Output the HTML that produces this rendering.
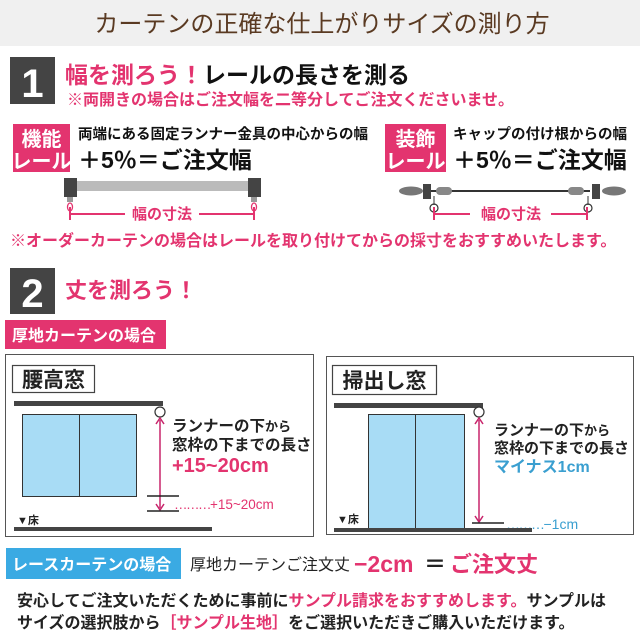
<!DOCTYPE html>
<html><head><meta charset="utf-8"><style>
html,body{margin:0;padding:0;background:#fff}
svg{display:block}
text{font-family:"Liberation Sans","Noto Sans CJK JP",sans-serif}
.b{font-weight:bold}
</style></head><body>
<svg width="640" height="640" viewBox="0 0 640 640" xmlns="http://www.w3.org/2000/svg">
<rect x="0" y="0" width="640" height="46" fill="#f0f0f0"/>
<text x="322" y="32" font-size="24" fill="#5a3a22" text-anchor="middle">カーテンの正確な仕上がりサイズの測り方</text>

<!-- section 1 -->
<rect x="10" y="57" width="45" height="47" fill="#444"/>
<text x="32.5" y="97" font-size="40" fill="#fff" text-anchor="middle" class="b">1</text>
<text x="65" y="83" font-size="23" class="b"><tspan fill="#e3346f">幅を測ろう！</tspan><tspan fill="#111">レールの長さを測る</tspan></text>
<text x="67" y="105" font-size="16" fill="#e3346f" class="b">※両開きの場合はご注文幅を二等分してご注文くださいませ。</text>

<rect x="13" y="124" width="57" height="48" fill="#e3346f"/>
<text x="41.5" y="146" font-size="20" fill="#fff" text-anchor="middle" class="b">機能</text>
<text x="41.5" y="168" font-size="20" fill="#fff" text-anchor="middle" class="b">レール</text>
<text x="78" y="139" font-size="14.5" fill="#111" class="b">両端にある固定ランナー金具の中心からの幅</text>
<text x="78" y="168" font-size="23" fill="#111" class="b">＋5％＝ご注文幅</text>
<rect x="72" y="181" width="180" height="10" fill="#bbb"/>
<rect x="64" y="178" width="13" height="19" fill="#444"/>
<rect x="248" y="178" width="13" height="19" fill="#444"/>
<rect x="67" y="197" width="6" height="5" fill="#999"/><rect x="251" y="197" width="6" height="5" fill="#999"/>
<ellipse cx="70" cy="207" rx="2.5" ry="4" fill="none" stroke="#e3346f" stroke-width="1.3"/>
<ellipse cx="254" cy="207" rx="2.5" ry="4" fill="none" stroke="#e3346f" stroke-width="1.3"/>
<line x1="70" y1="207" x2="70" y2="220" stroke="#e3346f" stroke-width="2"/>
<line x1="254" y1="207" x2="254" y2="220" stroke="#e3346f" stroke-width="2"/>
<line x1="70" y1="214" x2="125" y2="214" stroke="#e3346f" stroke-width="2"/>
<line x1="199" y1="214" x2="254" y2="214" stroke="#e3346f" stroke-width="2"/>
<text x="162" y="219" font-size="15" fill="#e3346f" text-anchor="middle" class="b">幅の寸法</text>

<rect x="385" y="124" width="61" height="48" fill="#e3346f"/>
<text x="415.5" y="146" font-size="20" fill="#fff" text-anchor="middle" class="b">装飾</text>
<text x="415.5" y="168" font-size="20" fill="#fff" text-anchor="middle" class="b">レール</text>
<text x="453" y="139" font-size="14.5" fill="#111" class="b">キャップの付け根からの幅</text>
<text x="453" y="168" font-size="23" fill="#111" class="b">＋5％＝ご注文幅</text>
<line x1="430" y1="191" x2="590" y2="191" stroke="#333" stroke-width="2"/>
<ellipse cx="411" cy="191" rx="12" ry="4.5" fill="#777"/>
<ellipse cx="614" cy="191" rx="12" ry="4.5" fill="#777"/>
<rect x="423" y="184" width="8" height="15" fill="#444"/>
<rect x="592" y="184" width="8" height="15" fill="#444"/>
<rect x="436" y="187" width="16" height="8" rx="4" fill="#888"/>
<rect x="568" y="187" width="16" height="8" rx="4" fill="#888"/>
<line x1="434" y1="196" x2="434" y2="205" stroke="#333"/><line x1="588" y1="196" x2="588" y2="205" stroke="#333"/>
<circle cx="434" cy="208" r="4" fill="none" stroke="#333" stroke-width="1.2"/>
<circle cx="588" cy="208" r="4" fill="none" stroke="#333" stroke-width="1.2"/>
<line x1="434" y1="207" x2="434" y2="220" stroke="#e3346f" stroke-width="2"/>
<line x1="587" y1="207" x2="587" y2="220" stroke="#e3346f" stroke-width="2"/>
<line x1="434" y1="214" x2="470" y2="214" stroke="#e3346f" stroke-width="2"/>
<line x1="551" y1="214" x2="587" y2="214" stroke="#e3346f" stroke-width="2"/>
<text x="511" y="219" font-size="15" fill="#e3346f" text-anchor="middle" class="b">幅の寸法</text>

<text x="10" y="246" font-size="16" fill="#e3346f" class="b">※オーダーカーテンの場合はレールを取り付けてからの採寸をおすすめいたします。</text>

<!-- section 2 -->
<rect x="10" y="268" width="45" height="46" fill="#444"/>
<text x="32.5" y="307" font-size="40" fill="#fff" text-anchor="middle" class="b">2</text>
<text x="65" y="298" font-size="22" fill="#e3346f" class="b">丈を測ろう！</text>

<rect x="5" y="320" width="161" height="29" fill="#e3346f"/>
<text x="12" y="341" font-size="16" fill="#fff" class="b">厚地カーテンの場合</text>

<!-- left panel -->
<rect x="5.5" y="354.5" width="308" height="182" fill="#fff" stroke="#555" stroke-width="1"/>
<rect x="12.5" y="365.5" width="82" height="27" fill="#fff" stroke="#444" stroke-width="1.2"/>
<text x="53.5" y="387" font-size="21" fill="#222" text-anchor="middle" class="b">腰高窓</text>
<rect x="14" y="401" width="149" height="5" fill="#444"/>
<circle cx="160" cy="412" r="5" fill="#fff" stroke="#333" stroke-width="1.2"/>
<rect x="22.5" y="414.5" width="114" height="82" fill="#a8dcf5" stroke="#333" stroke-width="1"/>
<line x1="79.5" y1="414" x2="79.5" y2="497" stroke="#333"/>
<line x1="160" y1="420" x2="160" y2="508" stroke="#c8246b" stroke-width="1.5"/>
<path d="M156,424 L160,418 L164,424 M156,504 L160,510 L164,504" fill="none" stroke="#c8246b" stroke-width="1.5"/>
<line x1="147" y1="496" x2="179" y2="496" stroke="#222" stroke-width="1.5"/>
<line x1="147" y1="511" x2="179" y2="511" stroke="#222" stroke-width="1.5"/>
<text x="174" y="509" font-size="13.5" fill="#e3346f"><tspan letter-spacing="-1.5">………</tspan>+15~20cm</text>
<text x="172" y="431" font-size="15.5" fill="#222" class="b">ランナーの下<tspan font-size="13">から</tspan></text>
<text x="172" y="450" font-size="15.5" fill="#222" class="b">窓枠の下までの長さ</text>
<text x="172" y="472" font-size="20" fill="#e3346f" class="b">+15~20cm</text>
<text x="17" y="524" font-size="11" fill="#222" class="b">▼床</text>
<rect x="14" y="527" width="198" height="4" fill="#444"/>

<!-- right panel -->
<rect x="326.5" y="356.5" width="307" height="178" fill="#fff" stroke="#555" stroke-width="1"/>
<rect x="332.5" y="365.5" width="104" height="29" fill="#fff" stroke="#444" stroke-width="1.2"/>
<text x="384.5" y="388" font-size="21" fill="#222" text-anchor="middle" class="b">掃出し窓</text>
<rect x="334" y="403" width="149" height="5" fill="#444"/>
<circle cx="479" cy="412" r="5" fill="#fff" stroke="#333" stroke-width="1.2"/>
<rect x="368.5" y="414.5" width="96" height="115" fill="#a8dcf5" stroke="#333" stroke-width="1"/>
<line x1="415.5" y1="414" x2="415.5" y2="530" stroke="#333"/>
<line x1="479" y1="420" x2="479" y2="521" stroke="#c8246b" stroke-width="1.5"/>
<path d="M475,424 L479,418 L483,424 M475,516 L479,522 L483,516" fill="none" stroke="#c8246b" stroke-width="1.5"/>
<line x1="472" y1="523" x2="504" y2="523" stroke="#222" stroke-width="1.5"/>
<text x="506" y="529" font-size="14" fill="#3a9fd0"><tspan letter-spacing="-1.5">………</tspan>−1cm</text>
<text x="494" y="435" font-size="15" fill="#222" class="b">ランナーの下<tspan font-size="13">から</tspan></text>
<text x="494" y="453" font-size="15" fill="#222" class="b">窓枠の下までの長さ</text>
<text x="494" y="472" font-size="16" fill="#3a9fd0" class="b">マイナス1cm</text>
<text x="337" y="523" font-size="11" fill="#222" class="b">▼床</text>
<rect x="334" y="528" width="198" height="4" fill="#444"/>

<!-- lace -->
<rect x="6" y="548" width="175" height="31" fill="#3aaae3"/>
<text x="12" y="570" font-size="16" fill="#fff" class="b">レースカーテンの場合</text>
<text x="190" y="570" font-size="16" fill="#222">厚地カーテンご注文丈</text>
<text x="354" y="572" font-size="23" fill="#e3346f" class="b">−2cm</text>
<text x="424" y="572" font-size="22" fill="#222" class="b">＝</text>
<text x="450" y="572" font-size="22" fill="#e3346f" class="b">ご注文丈</text>

<text x="17" y="606" font-size="16" fill="#222" class="b">安心してご注文いただくために事前に<tspan fill="#e3346f">サンプル請求をおすすめします。</tspan>サンプルは</text>
<text x="17" y="628" font-size="16" fill="#222" class="b">サイズの選択肢から<tspan fill="#e3346f">［サンプル生地］</tspan>をご選択いただきご購入いただけます。</text>
</svg>
</body></html>
